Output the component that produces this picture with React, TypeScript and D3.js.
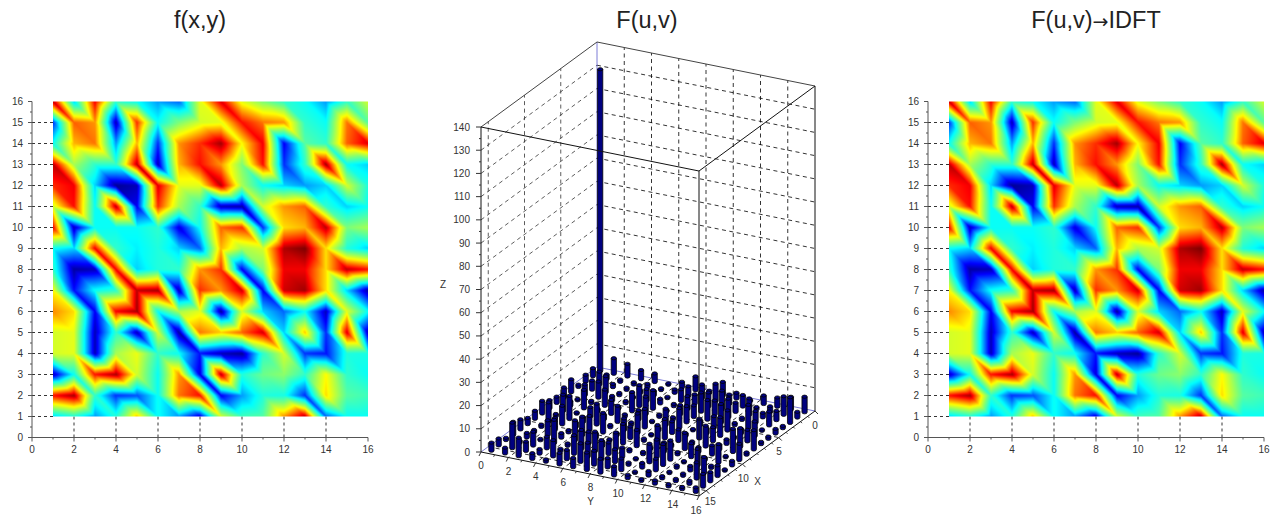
// App.tsx
import React, { useMemo } from 'react';
import * as d3 from 'd3';

// f(x,y), first row is y = 16, last row is y = 1 (0..1 on the colour bar)
const fGrid = [
  [.95, .30, .90, .40, .35, .25, .20, .62, .92, .62, .50, .40, .35, .25, .40, .60],
  [.15, .80, .75, .05, .85, .35, .50, .60, .62, .88, .78, .75, .40, .35, .78, .45],
  [.35, .72, .78, .25, .72, .15, .75, .85, .97, .65, .90, .10, .45, .40, .80, .92],
  [.95, .55, .40, .40, .95, .05, .72, .88, .75, .50, .88, .15, .40, .97, .35, .30],
  [.85, .90, .30, .02, .05, .92, .62, .62, .95, .55, .35, .30, .25, .30, .60, .38],
  [.60, .88, .35, .95, .10, .85, .55, .40, .05, .03, .60, .75, .80, .40, .30, .35],
  [.90, .05, .35, .35, .35, .40, .08, .35, .80, .85, .15, .68, .72, .95, .50, .55],
  [.35, .30, .90, .40, .33, .38, .30, .20, .72, .55, .60, .96, 1.0, .68, .38, .30],
  [.40, .03, .05, .90, .30, .38, .40, .75, .85, .10, .50, .90, .90, .68, .95, .88],
  [.65, .12, .35, .40, .95, .97, .05, .85, .75, .93, .10, .93, .97, .68, .30, .03],
  [.76, .68, .10, .90, .97, .35, .55, .62, .02, .60, .30, .20, .35, .05, .62, .35],
  [.60, .62, .05, .40, .05, .60, .03, .78, .70, .80, .93, .30, .70, .15, .92, .05],
  [.60, .62, .05, .55, .63, .40, .35, .12, .05, .02, .40, .60, .15, .12, .38, .37],
  [.05, .35, .88, .97, .60, .35, .75, .08, .95, .38, .48, .52, .40, .65, .40, .35],
  [.88, .97, .40, .15, .18, .35, .78, .88, .10, .25, .38, .37, .15, .68, .45, .42],
  [.30, .38, .25, .38, .70, .35, .25, .08, .60, .42, .45, .75, .95, .20, .35, .35],
];

// |F(u,v)| bar heights, row = X index, column = Y index
const fftRows = [
  [130, 6.7, 5.5, 4, 3.7, .6, 2.5, 6, 1, 6, 2.5, .6, 3.7, 4, 5.5, 6.7],
  [3.5, 2, 1, 1, 1.5, .8, 1.5, 4, 6, 7.5, 4, 5, 1, 2.5, 8, 2.5],
  [3, 5.5, 1.4, 1, 1, 2, .6, 5, 4, 6, 8, 4, 7, 2, 4, 11],
  [1, 4, 7, 1, .6, 5, 2, 1, 5.5, 8.3, 6, 8, 1, 5, 6, 1],
  [5.6, 4.6, 7, 2, 1, 9, 8, .6, 4, 5, 8.5, 8, 1, 10, .6, 2],
  [4.4, .6, 1, 7, .6, 8.3, 7.5, 1, 1, 7, 2, 5, 8.7, 2, 6.3, 1],
  [2.7, 2, 8, 1, 6, 1, 4, .6, 7, 8.4, .6, 2, 8, 1, 5, 1],
  [3.5, 7, .6, 4, 2, 7, 1, 8, 1, 5, 1, 8.5, 6, 2, 8, 8.3],
  [5.5, 1, 10, 2, 9, 1, 5, 8.3, .6, 8.3, 5, 1, 9, 2, 10, 1],
  [3.5, 8.3, 8, 2, 6, 8.5, 1, 5, 1, 8, 1, 7, 2, 4, .6, 7],
  [2.7, 1, 5, 1, 8, 2, .6, 8.4, 7, .6, 4, 1, 6, 1, 8, 2],
  [4.4, 1, 6.3, 2, 8.7, 5, 2, 7, 1, 1, 7.5, 8.3, .6, 7, 1, .6],
  [5.6, 2, .6, 10, 1, 8, 8.5, 5, 4, .6, 8, 9, 1, 2, 7, 4.6],
  [1, 1, 6, 5, 1, 8, 6, 8.3, 5.5, 1, 2, 5, .6, 1, 7, 4],
  [3, 11, 4, 2, 7, 4, 8, 6, 4, 5, .6, 2, 1, 1, 1.4, 5.5],
  [3.5, 2.5, 8, 2.5, 1, 5, 4, 7.5, 6, 4, 1.5, .8, 1.5, 1, 1, 2],
];

const xyTicks2D = d3.range(0, 17, 2);
const yTicks2D = d3.range(0, 17, 1);
const zTicks = d3.range(0, 141, 10);
const yTicks3D = d3.range(0, 17, 2);
const xTicks3D = [0, 5, 10, 15];

const FONT = '"Liberation Sans", Arial, sans-serif';
const TXT = '#333';

const jet = d3.scaleLinear<string>()
  .domain([0, .11, .34, .5, .65, .89, 1])
  .range(['#00007f', '#0000ff', '#00ffff', '#7cff79', '#ffff00', '#ff0000', '#7f0000'])
  .clamp(true);

// paint the grid as triangles with the value shaded across each one
function heatImage(size: number) {
  const canvas = document.createElement('canvas');
  canvas.width = size;
  canvas.height = size;
  const ctx = canvas.getContext('2d')!;
  const img = ctx.createImageData(size, size);
  const n = fGrid.length - 1;
  for (let py = 0; py < size; py++) {
    for (let px = 0; px < size; px++) {
      const gx = ((px + .5) / size) * n;
      const gy = ((py + .5) / size) * n;
      const c = Math.min(n - 1, Math.floor(gx));
      const r = Math.min(n - 1, Math.floor(gy));
      const u = gx - c;
      const w = gy - r;
      const tl = fGrid[r][c], tr = fGrid[r][c + 1], bl = fGrid[r + 1][c], br = fGrid[r + 1][c + 1];
      // diagonal runs from top left to bottom right
      const v = u >= w
        ? tl + u * (tr - tl) + w * (br - tr)
        : tl + w * (bl - tl) + u * (br - bl);
      const col = d3.rgb(jet(v));
      const k = (py * size + px) * 4;
      img.data[k] = col.r;
      img.data[k + 1] = col.g;
      img.data[k + 2] = col.b;
      img.data[k + 3] = 255;
    }
  }
  ctx.putImageData(img, 0, 0);
  return canvas.toDataURL();
}

function Heat({ left, href }: { left: number; href: string }) {
  const x = d3.scaleLinear().domain([0, 16]).range([left, left + 336]);
  const y = d3.scaleLinear().domain([0, 16]).range([437.5, 101.5]);
  return (
    <g fontFamily={FONT} fontSize={10} fill={TXT}>
      {d3.range(2, 16, 2).map(t => (
        <line key={t} x1={x(t)} x2={x(t)} y1={y(0)} y2={y(1)} stroke="#000" strokeWidth={.8} strokeDasharray="3 3" />
      ))}
      {d3.range(1, 16).map(t => (
        <line key={t} x1={x(0)} x2={x(1)} y1={y(t)} y2={y(t)} stroke="#000" strokeWidth={.8} strokeDasharray="3 3" />
      ))}
      <image href={href} x={x(1)} y={y(16)} width={x(16) - x(1)} height={y(1) - y(16)} preserveAspectRatio="none" />
      <line x1={x(0)} x2={x(16)} y1={y(0)} y2={y(0)} stroke="#555" strokeWidth={1} />
      <line x1={x(0)} x2={x(0)} y1={y(0)} y2={y(16)} stroke="#555" strokeWidth={1} />
      {d3.range(0, 17, 1).map(t => (
        <line key={t} x1={x(t)} x2={x(t)} y1={y(0)} y2={y(0) + (t % 2 ? 2 : 4)} stroke="#555" />
      ))}
      {d3.range(0, 16.5, .5).map(t => (
        <line key={t} x1={x(0)} x2={x(0) - (t % 1 ? 2 : 4)} y1={y(t)} y2={y(t)} stroke="#555" />
      ))}
      {xyTicks2D.map(t => (
        <text key={t} x={x(t)} y={y(0) + 15} textAnchor="middle">{t}</text>
      ))}
      {yTicks2D.map(t => (
        <text key={t} x={x(0) - 9} y={y(t) + 3.5} textAnchor="end">{t}</text>
      ))}
    </g>
  );
}

// isometric style mapping of the 3d box, each axis gets its own pair of scales
const xDx = d3.scaleLinear().domain([0, 16]).range([0, -116]);
const xDy = d3.scaleLinear().domain([0, 16]).range([0, 85]);
const yDx = d3.scaleLinear().domain([0, 16]).range([0, 218]);
const yDy = d3.scaleLinear().domain([0, 16]).range([0, 44]);
const zDy = d3.scaleLinear().domain([0, 140]).range([0, -325]);
const ORIGIN = [597, 367];
const px = (X: number, Y: number) => ORIGIN[0] + xDx(X) + yDx(Y);
const py = (X: number, Y: number, Z = 0) => ORIGIN[1] + xDy(X) + yDy(Y) + zDy(Z);

function seg(a: number[], b: number[]) {
  return `M${px(a[0], a[1])},${py(a[0], a[1], a[2])}L${px(b[0], b[1])},${py(b[0], b[1], b[2])}`;
}

function cylinder(i: number, j: number, h: number) {
  const cx = px(i + .5, j + .5);
  const by = py(i + .5, j + .5);
  const ty = py(i + .5, j + .5, h);
  const rx = 2.6, ry = 1.6;
  return `M${cx - rx},${ty}L${cx - rx},${by}A${rx},${ry} 0 0 0 ${cx + rx},${by}L${cx + rx},${ty}`
    + `A${rx},${ry} 0 1 0 ${cx - rx},${ty}A${rx},${ry} 0 1 0 ${cx + rx},${ty}`;
}

function Bars3D() {
  const leftWall: string[] = [];
  const rest: string[] = [];
  zTicks.slice(1, -1).forEach(z => {
    leftWall.push(seg([16, 0, z], [0, 0, z]));
    rest.push(seg([0, 0, z], [0, 16, z]));
  });
  xTicks3D.slice(1).forEach(t => {
    leftWall.push(seg([t, 0, 0], [t, 0, 140]));
    rest.push(seg([t, 0, 0], [t, 16, 0]));
  });
  yTicks3D.slice(1, -1).forEach(t => {
    rest.push(seg([0, t, 0], [0, t, 140]));
    rest.push(seg([0, t, 0], [16, t, 0]));
  });
  return (
    <g fontFamily={FONT} fontSize={10} fill={TXT}>
      <path d={leftWall.join('')} stroke="#333" strokeWidth={.8} strokeDasharray="4 3.5" fill="none" />
      <path d={rest.join('')} stroke="#000" strokeWidth={.8} strokeDasharray="4 3.5" fill="none" />
      <path d={seg([16, 0, 0], [0, 0, 0]) + seg([0, 0, 0], [0, 16, 0]) + seg([0, 0, 0], [0, 0, 140])} stroke="#5a5acb" strokeWidth={.8} fill="none" />
      <path d={seg([16, 0, 140], [0, 0, 140]) + seg([0, 0, 140], [0, 16, 140])} stroke="#444" strokeWidth={1} fill="none" />
      {fftRows.map((row, i) => row.map((h, j) => (
        <path key={`${i}-${j}`} d={cylinder(i, j, h)} fill="#00007f" stroke="#000" strokeWidth={.8} />
      )))}
      <path
        d={seg([16, 0, 140], [16, 16, 140]) + seg([16, 16, 140], [0, 16, 140]) + seg([16, 16, 140], [16, 16, 0]) + seg([0, 16, 140], [0, 16, 0]) + seg([16, 0, 140], [16, 0, 0]) + seg([16, 0, 0], [16, 16, 0]) + seg([16, 16, 0], [0, 16, 0])}
        stroke="#111" strokeWidth={1} fill="none"
      />
      {d3.range(0, 141, 5).map(z => (
        <line key={z} x1={px(16, 0)} x2={px(16, 0) - (z % 10 ? 2 : 5)} y1={py(16, 0, z)} y2={py(16, 0, z)} stroke="#333" />
      ))}
      {zTicks.map(z => (
        <text key={z} x={470} y={py(16, 0, z) + 3.5} textAnchor="end">{z}</text>
      ))}
      {d3.range(0, 17).map(t => (
        <line key={t} x1={px(16, t)} x2={px(16, t) - (t % 2 ? 1 : 2)} y1={py(16, t)} y2={py(16, t) + (t % 2 ? 2 : 4)} stroke="#333" />
      ))}
      {yTicks3D.map(t => (
        <text key={t} x={px(16, t) + (t === 16 ? -3 : t * .08)} y={py(16, t) + (t === 16 ? 17.5 : 17)} textAnchor="middle">{t}</text>
      ))}
      {d3.range(0, 16).map(t => (
        <line key={t} x1={px(t, 16)} x2={px(t, 16) + (t % 5 ? 1.5 : 3)} y1={py(t, 16)} y2={py(t, 16) + (t % 5 ? 1.5 : 3)} stroke="#333" />
      ))}
      {xTicks3D.map(t => (
        <text key={t} x={px(t, 16) + (t === 15 ? 4 : t * .07)} y={py(t, 16) + (t === 15 ? 14.5 : 17.5)} textAnchor="middle">{t}</text>
      ))}
      <text x={590.7} y={505} textAnchor="middle">Y</text>
      <text x={757.7} y={485} textAnchor="middle">X</text>
      <text x={443} y={288} textAnchor="middle">Z</text>
    </g>
  );
}

export default function App() {
  const href = useMemo(() => heatImage(630), []);
  return (
    <svg width={1273} height={514} viewBox="0 0 1273 514" style={{ position: 'absolute', left: 0, top: 0, display: 'block' }}>
      <rect width={1273} height={514} fill="#fff" />
      <g fontFamily={FONT} fontSize={23.5} fill="#222" textAnchor="middle">
        <text x={200} y={28}>f(x,y)</text>
        <text x={647} y={28}>F(u,v)</text>
        <text x={1096} y={28}>F(u,v)<tspan fontFamily="DejaVu Sans" fontSize={19}>{'\u2192'}</tspan>IDFT</text>
      </g>
      <Heat left={32} href={href} />
      <Bars3D />
      <Heat left={928} href={href} />
    </svg>
  );
}
